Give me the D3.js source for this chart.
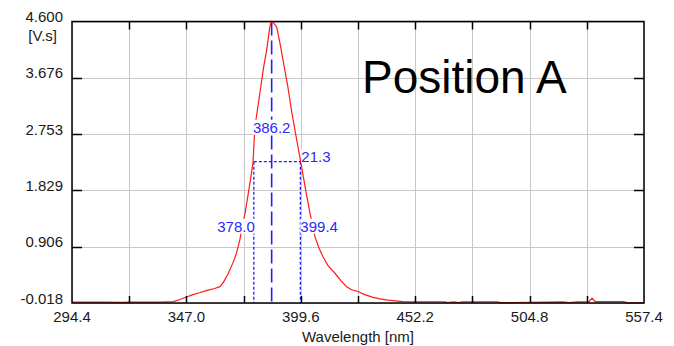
<!DOCTYPE html>
<html lang="en">
<head>
  <meta charset="UTF-8">
  <title>Position A</title>
  <style>
    body { margin: 0; background: #ffffff; }
    svg { display: block; font-family: "Liberation Sans", Arial, sans-serif; }
    .grid line { stroke: #c8c8c8; stroke-width: 1px; shape-rendering: crispEdges; }
    .tick-label { font-size: 15px; fill: #1a1a1a; }
    .note { font-size: 15px; fill: #2a2aff; }
    .curve { fill: none; stroke: #ff1a1a; stroke-width: 1.2px; }
  </style>
</head>
<body>
  <script src="https://cdnjs.cloudflare.com/ajax/libs/d3/7.8.5/d3.min.js"></script>
  <script>
    // spectrum
    var wavelength = [294.4, 310, 318, 320, 335, 338, 341, 344, 347, 350, 353, 356.5, 360, 362.4, 364, 366,
      368.4, 370, 371.6, 373, 374, 376, 377.6, 378.5, 380.8, 382.5, 383.9, 385.3, 386, 387, 388.5, 390,
      392, 393.7, 395.5, 397.7, 400, 402, 403.8, 406.1, 408, 409.8, 412, 415.3, 418, 420.7, 423, 425.9,
      429, 432.8, 436, 439.7, 446.6, 455, 466, 467, 470, 472, 474, 490, 492, 497, 520, 523, 527, 532,
      533.5, 535, 548, 550, 557.4];
    var signal = [-0.005, -0.005, -0.009, -0.004, -0.005, 0.0, 0.006, 0.04, 0.08, 0.12, 0.15, 0.19, 0.22, 0.25, 0.32, 0.45,
      0.64, 0.8, 1.02, 1.3, 1.46, 1.9, 2.28, 2.87, 3.43, 3.85, 4.13, 4.5, 4.6, 4.58, 4.51, 4.25,
      3.85, 3.52, 3.1, 2.66, 2.21, 1.8, 1.46, 1.07, 0.88, 0.74, 0.6, 0.47, 0.35, 0.25, 0.2, 0.17,
      0.12, 0.075, 0.05, 0.03, 0.003, 0.0, 0.0, -0.01, 0.0, -0.012, 0.0, 0.0, -0.015, -0.01, 0.0, -0.01, 0.0, 0.0,
      0.06, 0.005, 0.003, -0.015, -0.015];

    var xMajor = [294.4, 347.0, 399.6, 452.2, 504.8, 557.4];
    var yTicks = [-0.018, 0.906, 1.829, 2.753, 3.676, 4.600];

    // peak / FWHM markers
    var peakPos = 386.2, leftHalf = 378.0, rightHalf = 399.4, fwhm = 21.3, halfMax = 2.3;

    var width = 674, height = 346;
    var pl = 72, pr = 644, pt = 21.5, pb = 303;

    var x = d3.scaleLinear().domain([294.4, 557.4]).range([pl, pr]);
    var y = d3.scaleLinear().domain([-0.018, 4.6]).range([pb, pt]);

    // grid every half label step
    var xGrid = d3.range(11).map(function (i) { return 294.4 + i * 26.3; });

    var svg = d3.select("body").append("svg")
        .attr("width", width)
        .attr("height", height);

    var grid = svg.append("g").attr("class", "grid");
    grid.selectAll(".gx").data(xGrid).enter().append("line")
        .attr("x1", function (d) { return Math.round(x(d)) + 0.5; })
        .attr("x2", function (d) { return Math.round(x(d)) + 0.5; })
        .attr("y1", pt).attr("y2", pb);
    grid.selectAll(".gy").data(yTicks).enter().append("line")
        .attr("x1", pl).attr("x2", pr)
        .attr("y1", function (d) { return Math.round(y(d)) + 0.5; })
        .attr("y2", function (d) { return Math.round(y(d)) + 0.5; });

    // big title inside the plot
    svg.append("text")
        .attr("x", 362).attr("y", 93)
        .style("font-size", "46px")
        .style("fill", "#000")
        .text("Position A");

    // blue markers
    var blue = "#2020ff";
    svg.append("line")
        .attr("x1", x(peakPos)).attr("x2", x(peakPos))
        .attr("y1", pt).attr("y2", pb)
        .attr("stroke", blue).attr("stroke-width", 1.6)
        .attr("stroke-dasharray", "14,5");
    [leftHalf, rightHalf].forEach(function (v) {
      svg.append("line")
          .attr("x1", x(v)).attr("x2", x(v))
          .attr("y1", y(halfMax)).attr("y2", pb)
          .attr("stroke", blue).attr("stroke-width", 1.3)
          .attr("stroke-dasharray", "3,2");
    });
    svg.append("line")
        .attr("x1", x(leftHalf)).attr("x2", x(rightHalf))
        .attr("y1", y(halfMax)).attr("y2", y(halfMax))
        .attr("stroke", blue).attr("stroke-width", 1.3)
        .attr("stroke-dasharray", "3,2");

    // spectrum
    var pts = wavelength.map(function (w, i) { return [w, signal[i]]; });
    var line = d3.line()
        .x(function (d) { return x(d[0]); })
        .y(function (d) { return y(d[1]); });
    svg.append("path")
        .datum(pts)
        .attr("class", "curve")
        .attr("d", line);

    // marker labels, on a white box that hides the curve underneath
    function note(px, py, anchor, txt) {
      var g = svg.append("g");
      var bg = g.append("rect").attr("fill", "#fff");
      var t = g.append("text").attr("class", "note")
          .attr("x", px).attr("y", py)
          .attr("text-anchor", anchor).text(txt);
      var b = t.node().getBBox();
      bg.attr("x", b.x).attr("y", b.y + 1).attr("width", b.width).attr("height", b.height - 2);
    }
    note(x(peakPos), y(halfMax) - 29, "middle", peakPos.toFixed(1));
    note(x(rightHalf) + 1, y(halfMax), "start", fwhm.toFixed(1));
    note(x(leftHalf) + 1, y(halfMax) + 70, "end", leftHalf.toFixed(1));
    note(x(rightHalf), y(halfMax) + 70, "start", rightHalf.toFixed(1));

    // frame
    svg.append("rect")
        .attr("x", pl).attr("y", pt)
        .attr("width", pr - pl).attr("height", pb - pt)
        .attr("fill", "none").attr("stroke", "#000").attr("stroke-width", 1.5);

    // small inner ticks
    var ticks = svg.append("g").attr("stroke", "#000").attr("stroke-width", 1.5);
    xGrid.slice(1, -1).forEach(function (d) {
      var px = Math.round(x(d)) + 0.5;
      ticks.append("line").attr("x1", px).attr("x2", px).attr("y1", pt).attr("y2", pt + 8);
      ticks.append("line").attr("x1", px).attr("x2", px).attr("y1", pb).attr("y2", pb - 7);
    });
    yTicks.slice(1, -1).forEach(function (d) {
      var py = Math.round(y(d)) + 0.5;
      ticks.append("line").attr("x1", pl).attr("x2", pl + 10).attr("y1", py).attr("y2", py);
      ticks.append("line").attr("x1", pr).attr("x2", pr - 10).attr("y1", py).attr("y2", py);
    });

    // tick labels
    svg.selectAll(".xl").data(xMajor).enter().append("text")
        .attr("class", "tick-label")
        .attr("x", function (d) { return x(d); })
        .attr("y", 322)
        .attr("text-anchor", "middle")
        .text(function (d) { return d.toFixed(1); });
    svg.selectAll(".yl").data(yTicks).enter().append("text")
        .attr("class", "tick-label")
        .attr("x", 63)
        .attr("y", function (d) { return y(d) + 0.5; })
        .attr("text-anchor", "end")
        .text(function (d) { return d.toFixed(3); });

    svg.append("text").attr("class", "tick-label")
        .attr("x", 57).attr("y", 41)
        .attr("text-anchor", "end").text("[V.s]");
    svg.append("text").attr("class", "tick-label")
        .attr("x", 358).attr("y", 342)
        .attr("text-anchor", "middle").text("Wavelength [nm]");
  </script>
</body>
</html>
